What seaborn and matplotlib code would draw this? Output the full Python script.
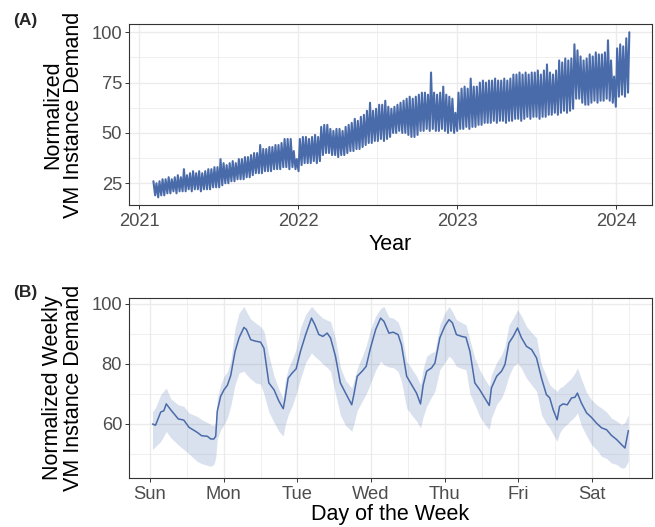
import pandas as pd
import matplotlib.pyplot as plt
import matplotlib.dates as mdates
from matplotlib.ticker import FixedLocator
import seaborn as sns

# (A) daily demand, one mid-week high and one weekend low per week
first_monday = "2021-02-01"
week_peak = [
    26, 25, 26, 27, 27, 28, 27, 28, 29, 28,
    32, 29, 30, 31, 30, 31, 30, 31, 32, 32,
    33, 33, 37, 35, 34, 35, 36, 35, 37, 37,
    38, 38, 39, 40, 40, 44, 42, 42, 43, 43,
    44, 44, 45, 47, 47, 47, 41, 37, 47, 48,
    48, 47, 48, 49, 48, 53, 54, 54, 52, 51,
    52, 52, 51, 53, 54, 55, 57, 56, 58, 59,
    61, 65, 61, 62, 64, 64, 66, 63, 62, 63,
    64, 65, 66, 67, 68, 67, 68, 69, 70, 70,
    69, 80, 70, 69, 70, 73, 69, 68, 67, 60,
    70, 72, 73, 72, 77, 73, 73, 75, 76, 75,
    76, 76, 77, 76, 76, 77, 76, 77, 79, 79,
    80, 79, 80, 79, 80, 80, 81, 79, 81, 84,
    80, 79, 81, 86, 85, 87, 86, 87, 94, 91,
    88, 86, 87, 89, 88, 90, 89, 89, 90, 96,
    86, 78, 92, 94, 93, 97, 100,
]
week_low = [
    19, 18, 19, 19, 20, 20, 21, 20, 21, 21,
    21, 22, 21, 22, 22, 21, 22, 22, 22, 23,
    23, 23, 24, 25, 25, 26, 26, 27, 27, 27,
    28, 28, 29, 30, 30, 30, 31, 31, 31, 32,
    32, 32, 33, 33, 32, 33, 32, 31, 34, 35,
    35, 35, 36, 35, 36, 39, 40, 40, 39, 39,
    38, 39, 39, 40, 41, 41, 42, 42, 43, 44,
    45, 45, 46, 46, 47, 46, 47, 48, 50, 50,
    51, 50, 50, 49, 48, 48, 49, 51, 51, 52,
    51, 52, 51, 51, 52, 51, 50, 51, 50, 51,
    52, 52, 53, 52, 53, 53, 54, 54, 55, 55,
    55, 56, 55, 56, 56, 55, 56, 56, 57, 57,
    56, 57, 58, 57, 58, 58, 57, 58, 58, 59,
    59, 60, 59, 60, 61, 60, 61, 62, 67, 67,
    65, 64, 64, 65, 66, 65, 66, 66, 67, 66,
    65, 63, 68, 69, 68, 70,
]

# (B) average weekly profile (hours since Sunday 00:00) with its band
hours = [
    0.8, 1.8, 3.5, 4.5, 5.3, 6.7, 9.2, 11.0, 12.7, 15.4,
    16.8, 18.7, 19.8, 20.8, 21.4, 21.9, 23.0, 24.1, 25.2, 26.3,
    27.7, 29.0, 30.6, 31.4, 32.8, 34.4, 36.0, 37.1, 38.7, 40.4,
    42.0, 43.4, 44.0, 45.0, 46.3, 47.6, 49.0, 50.7, 52.6, 53.7,
    55.0, 56.3, 57.7, 58.8, 60.4, 62.0, 63.7, 65.7, 66.4, 67.5,
    69.1, 70.4, 71.8, 73.5, 75.1, 76.2, 77.8, 79.2, 80.8, 81.9,
    83.6, 85.2, 86.8, 88.1, 89.0, 90.1, 91.7, 92.8, 94.4, 96.0,
    97.4, 98.5, 99.8, 101.5, 102.9, 104.2, 105.8, 107.4, 109.0, 110.5,
    111.2, 112.9, 114.5, 115.6, 116.9, 118.3, 119.7, 121.0, 122.6, 124.3,
    125.9, 127.5, 129.1, 130.2, 131.3, 132.6, 133.4, 134.5, 135.9, 137.3,
    138.4, 139.2, 140.5, 142.2, 143.8, 145.4, 147.1, 148.7, 150.3, 152.0,
    153.6, 154.7, 155.8,
]
weekly_mean = [
    60.0, 59.6, 64.0, 64.4, 66.7, 64.8, 61.7, 61.3, 58.9, 57.2,
    56.1, 55.9, 55.0, 55.0, 55.9, 64.2, 69.2, 71.4, 72.9, 76.2,
    84.2, 88.7, 92.2, 91.5, 88.1, 87.6, 87.3, 85.3, 73.7, 71.4,
    67.6, 65.1, 68.6, 75.3, 77.0, 78.4, 84.2, 89.8, 95.3, 93.1,
    89.8, 89.2, 90.3, 88.7, 82.6, 73.7, 70.3, 66.4, 69.8, 75.9,
    77.6, 79.2, 85.3, 91.5, 95.3, 94.2, 90.3, 90.6, 89.8, 86.4,
    75.9, 73.1, 70.3, 66.7, 73.1, 77.6, 78.7, 80.3, 88.7, 92.6,
    94.8, 93.7, 89.8, 89.2, 88.9, 84.2, 73.7, 71.4, 68.7, 66.2,
    72.0, 75.9, 77.6, 79.8, 87.0, 89.2, 92.0, 88.7, 85.9, 84.8,
    82.0, 75.3, 69.8, 68.7, 64.8, 61.4, 65.9, 66.7, 66.4, 68.7,
    68.9, 70.3, 67.0, 63.7, 62.2, 60.3, 58.7, 58.1, 56.2, 54.8,
    53.1, 52.0, 57.8,
]
weekly_low = [
    51.5, 52.5, 54.2, 56.0, 57.5, 55.5, 53.0, 51.5, 50.0, 47.5,
    46.8, 46.2, 45.9, 46.5, 48.7, 55.0, 58.0, 59.8, 62.0, 66.0,
    73.1, 77.0, 77.6, 76.5, 75.0, 73.7, 73.3, 70.0, 64.0, 60.5,
    57.5, 56.0, 59.5, 63.0, 66.0, 70.0, 75.0, 80.5, 83.7, 82.5,
    81.4, 80.0, 78.8, 77.6, 70.0, 63.0, 59.5, 57.6, 60.0, 64.5,
    67.6, 70.0, 73.5, 78.0, 80.9, 79.8, 79.0, 78.8, 77.5, 74.2,
    65.3, 63.0, 61.0, 58.7, 62.5, 65.9, 69.0, 71.0, 78.1, 80.5,
    82.6, 81.5, 79.2, 78.5, 78.1, 70.0, 66.4, 62.5, 60.0, 58.1,
    62.0, 66.5, 68.7, 71.5, 76.0, 79.2, 80.3, 78.5, 75.3, 73.0,
    70.9, 63.1, 60.0, 58.7, 56.5, 54.2, 57.0, 58.7, 60.0, 61.4,
    62.5, 63.7, 59.5, 56.0, 53.1, 51.5, 49.2, 48.5, 47.0, 46.5,
    45.3, 45.5, 47.6,
]
weekly_high = [
    64.0, 65.5, 69.8, 71.0, 72.0, 68.5, 66.4, 65.9, 63.7, 62.5,
    61.5, 60.5, 59.8, 59.5, 60.5, 68.5, 73.0, 75.9, 77.5, 81.0,
    92.0, 97.0, 99.2, 97.5, 95.0, 93.7, 92.5, 91.0, 83.0, 76.0,
    71.5, 68.5, 74.0, 78.5, 81.5, 85.0, 92.0, 96.5, 99.2, 98.0,
    96.5, 95.3, 94.6, 94.2, 88.5, 79.0, 74.5, 72.0, 74.5, 78.5,
    82.6, 86.0, 91.5, 96.0, 98.5, 99.2, 95.6, 95.3, 94.0, 90.9,
    80.9, 78.5, 76.0, 73.1, 78.5, 82.6, 83.8, 84.2, 93.1, 97.0,
    99.2, 97.5, 94.8, 93.8, 93.1, 88.0, 82.0, 78.0, 75.0, 72.6,
    76.5, 80.5, 83.1, 86.0, 93.0, 95.3, 98.1, 96.0, 92.6, 90.5,
    88.7, 79.8, 76.0, 73.1, 72.0, 70.9, 72.0, 72.6, 74.0, 75.3,
    77.0, 78.7, 75.0, 70.5, 68.1, 66.5, 65.3, 64.0, 62.0, 61.0,
    59.8, 60.5, 63.1,
]
day_labels = ['Sun', 'Mon', 'Tue', 'Wed', 'Thu', 'Fri', 'Sat']

line_col = '#4A6BAA'
grid_col = '#EBEBEB'
text_col = '#4D4D4D'

sns.set_theme(style='white', rc={
    'axes.edgecolor': '#333333',
    'axes.linewidth': 0.8,
    'xtick.bottom': True,
    'ytick.left': True,
    'xtick.color': '#333333',
    'ytick.color': '#333333',
    'xtick.labelcolor': text_col,
    'ytick.labelcolor': text_col,
    'xtick.major.size': 3,
    'ytick.major.size': 3,
    'xtick.major.width': 0.7,
    'ytick.major.width': 0.7,
    'xtick.major.pad': 2.5,
    'ytick.major.pad': 2,
    'xtick.labelsize': 13.2,
    'ytick.labelsize': 13.2,
    'axes.labelsize': 15.5,
    'axes.labelcolor': 'black',
})
plt.rcParams['font.family'] = ['Liberation Sans', 'DejaVu Sans']

# build the daily-ish series for panel A
mondays = pd.date_range(first_monday, periods=len(week_peak), freq='7D')
rows = []
for i, m in enumerate(mondays):
    rows.append((m + pd.Timedelta(days=2), week_peak[i]))
    if i < len(week_low):
        rows.append((m + pd.Timedelta(days=6), week_low[i]))
df_a = pd.DataFrame(rows, columns=['date', 'demand'])

df_b = pd.DataFrame({'hour': hours, 'mean': weekly_mean,
                     'low': weekly_low, 'high': weekly_high})

fig = plt.figure(figsize=(6.55, 5.27), dpi=100)
ax1 = fig.add_axes([129 / 655, 1 - 205 / 527, 523 / 655, 181 / 527])
ax2 = fig.add_axes([129 / 655, 1 - 478 / 527, 523 / 655, 180 / 527])


def style_grid(ax):
    ax.set_axisbelow(True)
    ax.grid(True, which='major', color=grid_col, linewidth=1.0)
    ax.grid(True, which='minor', color=grid_col, linewidth=0.55)
    ax.tick_params(which='minor', length=0)


# panel A
sns.lineplot(data=df_a, x='date', y='demand', ax=ax1, color=line_col,
             linewidth=1.5)
ax1.set_xlim(pd.Timestamp('2020-12-09'), pd.Timestamp('2024-03-23'))
ax1.set_ylim(14.2, 104.1)
ax1.xaxis.set_major_locator(mdates.YearLocator())
ax1.xaxis.set_major_formatter(mdates.DateFormatter('%Y'))
ax1.xaxis.set_minor_locator(mdates.MonthLocator(bymonth=7))
ax1.yaxis.set_major_locator(FixedLocator([25, 50, 75, 100]))
ax1.yaxis.set_minor_locator(FixedLocator([37.5, 62.5, 87.5]))
style_grid(ax1)
ax1.set_xlabel('Year', labelpad=3)
ax1.set_ylabel('Normalized\nVM Instance Demand', labelpad=5, linespacing=1.0)

# panel B
ax2.fill_between(df_b['hour'], df_b['low'], df_b['high'], color=line_col,
                 alpha=0.2, linewidth=0)
sns.lineplot(data=df_b, x='hour', y='mean', ax=ax2, color=line_col,
             linewidth=1.1)
ax2.set_xlim(-6.84, 163.5)
ax2.set_ylim(42, 102)
ax2.set_xticks([24 * i for i in range(7)])
ax2.set_xticklabels(day_labels)
ax2.xaxis.set_minor_locator(FixedLocator([12 + 24 * i for i in range(7)]))
ax2.yaxis.set_major_locator(FixedLocator([60, 80, 100]))
ax2.yaxis.set_minor_locator(FixedLocator([50, 70, 90]))
style_grid(ax2)
ax2.set_xlabel('Day of the Week', labelpad=1)
ax2.set_ylabel('Normalized Weekly\nVM Instance Demand', labelpad=5,
               linespacing=1.0)

fig.text(13 / 655, 1 - 20 / 527, '(A)', fontsize=12.5, fontweight='bold',
         va='center', ha='left')
fig.text(13 / 655, 1 - 292 / 527, '(B)', fontsize=12.5, fontweight='bold',
         va='center', ha='left')

fig.savefig('out.png', dpi=100)
